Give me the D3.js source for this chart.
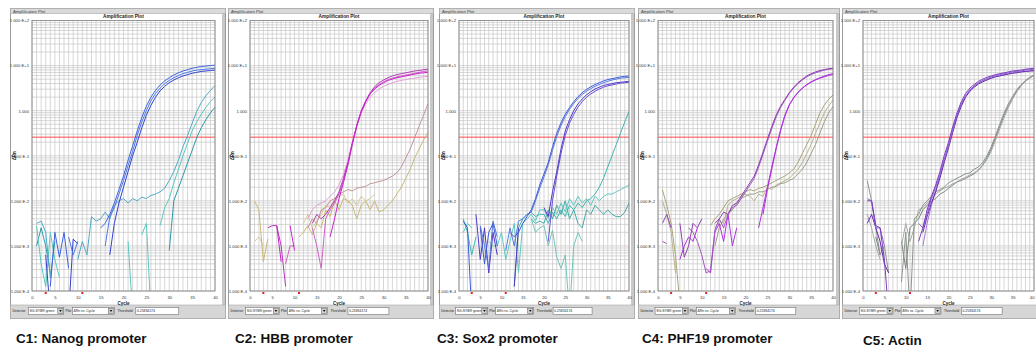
<!DOCTYPE html>
<html>
<head>
<meta charset="utf-8">
<script src="https://cdn.jsdelivr.net/npm/d3@7"></script>
<style>
  body { margin: 0; background: #fff; }
  svg { display: block; font-family: Arial, "Liberation Sans", sans-serif; }
</style>
</head>
<body>
<svg id="fig" width="1036" height="349"></svg>
<script>
const _ = null;
// cycles 1..40, values below are log10(ΔRn); null = no point drawn
const cycles = d3.range(1, 41);
const xTicks = [0, 5, 10, 15, 20, 25, 30, 35, 40];
const decades = [1e-4, 1e-3, 1e-2, 1e-1, 1, 10, 100];
const decadeLabels = ["1.000 E-4", "1.000 E-3", "1.000 E-2", "1.000 E-1", "1.000", "1.000 E+1", "1.000 E+2"];
const threshold = 0.25834174;
const baselineMarks = [3, 11];
const captions = ["C1: Nanog promoter", "C2: HBB promoter", "C3: Sox2 promoter", "C4: PHF19 promoter", "C5: Actin"];

// C1 Nanog
const nanogB1 = [_, _, _, -3.9, -2.7, -3.25, -2.7, -3.5, _, _,
  _, _, _, _, -2.6, -2.5, -2.3, -2.05, -1.75, -1.45,
  -1.1, -0.78, -0.45, -0.15, 0.1, 0.3, 0.45, 0.57, 0.66, 0.73,
  0.79, 0.84, 0.88, 0.91, 0.94, 0.96, 0.98, 0.99, 1.0, 1.01];
const nanogB2 = [_, _, _, _, _, _, _, -2.8, -3.2, -2.9,
  _, _, _, _, _, -3.0, -2.35, -2.15, -1.85, -1.55,
  -1.22, -0.9, -0.55, -0.25, 0.0, 0.22, 0.38, 0.5, 0.6, 0.67,
  0.73, 0.78, 0.82, 0.85, 0.88, 0.9, 0.91, 0.92, 0.93, 0.94];
const nanogB3 = [_, _, -3.2, -4.5, _, _, _, -4.5, -2.85, -2.95,
  _, _, _, _, _, _, -3.2, -2.5, -2.05, -1.7,
  -1.35, -1.0, -0.7, -0.38, -0.1, 0.12, 0.3, 0.44, 0.54, 0.62,
  0.68, 0.73, 0.77, 0.8, 0.83, 0.85, 0.87, 0.88, 0.89, 0.9];
const nanogT1 = [-2.5, -2.45, -2.7, -3.7, -2.9, _, _, _, _, -3.3,
  -2.9, -3.2, -2.35, -2.45, -2.4, -2.25, -2.4, -2.1, -2.0, -1.95,
  -2.05, -1.95, -2.0, -1.92, -1.95, -1.88, -1.85, -1.8, -1.72, -1.55,
  -1.35, -1.1, -0.8, -0.55, -0.28, -0.02, 0.18, 0.33, 0.45, 0.56];
const nanogT2 = [-2.55, -3.4, -3.9, -2.7, -3.3, -3.7, _, _, _, _,
  _, _, _, _, _, _, _, _, _, _,
  -2.9, -4.5, _, -2.75, -2.5, -4.5, _, -2.55, -2.15, -1.95,
  -1.6, -1.3, -1.0, -0.72, -0.45, -0.25, -0.08, 0.07, 0.2, 0.3];
const nanogT3 = [-3.0, -2.6, -3.0, -3.6, _, _, _, _, _, _,
  _, _, _, _, _, _, _, _, _, _,
  _, _, _, _, _, _, _, _, _, -3.1,
  -2.0, -1.72, -1.44, -1.16, -0.88, -0.6, -0.38, -0.2, -0.05, 0.08];
const nanogCurves = [nanogT3, nanogT2, nanogT1, nanogB3, nanogB2, nanogB1];
const nanogColors = ["#2a9aa8", "#5cc6c0", "#4fa8c8", "#3440cc", "#4a78e6", "#3c62dc"];

// C2 HBB
const hbbM1 = [_, _, _, -2.6, -2.55, -2.55, -3.0, -3.9, _, _,
  _, _, _, -2.5, -2.3, -2.4, -2.3, -2.15, -2.0, -1.8,
  -1.5, -1.15, -0.72, -0.32, 0.0, 0.22, 0.4, 0.53, 0.62, 0.68,
  0.73, 0.77, 0.8, 0.82, 0.84, 0.86, 0.88, 0.89, 0.91, 0.92];
const hbbM2 = [_, _, _, _, _, _, _, -3.4, -3.0, -3.0,
  _, _, _, -2.6, -3.0, -3.5, -2.4, -2.2, -2.05, -1.85,
  -1.55, -1.2, -0.75, -0.35, -0.03, 0.2, 0.38, 0.5, 0.58, 0.64,
  0.69, 0.72, 0.75, 0.77, 0.79, 0.81, 0.83, 0.85, 0.87, 0.88];
const hbbM3 = [_, _, _, _, _, -2.55, -3.35, _, -2.55, -3.1,
  _, _, _, _, _, _, _, -2.8, -2.4, -1.95,
  -1.6, -1.2, -0.72, -0.33, -0.02, 0.2, 0.37, 0.48, 0.56, 0.62,
  0.67, 0.7, 0.73, 0.75, 0.77, 0.79, 0.81, 0.83, 0.84, 0.85];
const hbbM4 = [_, _, _, _, _, _, _, _, _, _,
  _, _, -2.4, -2.2, -2.1, -2.05, -2.0, -1.9, -1.8, -1.65,
  -1.42, -1.1, -0.7, -0.33, -0.05, 0.15, 0.3, 0.4, 0.48, 0.54,
  0.58, 0.62, 0.65, 0.67, 0.69, 0.71, 0.72, 0.74, 0.75, 0.76];
const hbbD1 = [_, _, _, _, _, _, _, _, _, _,
  _, _, -2.6, -2.4, -2.5, -2.2, -2.15, -2.0, -1.95, -1.85,
  -1.8, -1.75, -1.78, -1.72, -1.7, -1.68, -1.62, -1.6, -1.57, -1.55,
  -1.5, -1.45, -1.38, -1.25, -1.05, -0.85, -0.6, -0.35, -0.1, 0.15];
const hbbK1 = [-2.0, -2.2, -3.35, -2.85, _, _, _, _, _, _,
  -2.8, -2.7, -2.55, -2.75, -2.5, -2.6, -2.2, -2.35, -2.0, -2.2,
  -1.95, -2.0, -2.1, -2.4, -2.1, -2.0, -2.2, -2.0, -2.25, -2.2,
  -2.1, -2.0, -1.85, -1.7, -1.5, -1.3, -1.05, -0.85, -0.65, -0.48];
const hbbK2 = [-2.9, -2.8, -3.0, _, _, _, _, _, _, _,
  _, -2.5, -2.3, -2.6, -2.45, -2.3, -2.1, -2.15, -1.95, -1.9,
  -1.85, -2.05, -1.95, -2.1, -1.9, -2.0, -1.95, -1.85, _, _,
  _, _, _, _, _, _, _, _, _, _];
const hbbCurves = [hbbK2, hbbK1, hbbD1, hbbM4, hbbM2, hbbM1, hbbM3];
const hbbColors = ["#d6c89c", "#c8b878", "#c49498", "#e2a0d4", "#d060c4", "#b03cb4", "#cc20d0"];

// C3 Sox2
const soxS1 = [-2.45, -2.6, -4.5, _, -2.6, -3.4, -2.7, -2.5, -3.0, _,
  _, -2.7, -2.8, -2.7, -2.5, -2.35, -2.2, -1.95, -1.65, -1.4,
  -1.15, -0.8, -0.5, -0.27, -0.08, 0.07, 0.2, 0.31, 0.4, 0.47,
  0.53, 0.58, 0.62, 0.66, 0.69, 0.71, 0.73, 0.75, 0.76, 0.77];
const soxS1b = [_, _, _, _, -2.55, -3.0, -3.5, -2.45, -2.8, _,
  -3.1, -2.6, -3.0, -2.45, -2.4, -2.3, -2.25, -2.0, -1.72, -1.47,
  -1.2, -0.88, -0.57, -0.33, -0.13, 0.03, 0.16, 0.27, 0.36, 0.43,
  0.49, 0.54, 0.58, 0.62, 0.65, 0.68, 0.7, 0.72, 0.73, 0.74];
const soxS3 = [_, _, _, -2.3, -3.3, -2.6, -3.6, -2.7, -3.2, _,
  _, _, -3.9, -2.6, _, _, _, _, _, -2.15,
  -2.35, -1.8, -1.35, -0.85, -0.45, -0.2, 0.0, 0.15, 0.26, 0.35,
  0.42, 0.48, 0.52, 0.56, 0.58, 0.6, 0.62, 0.63, 0.64, 0.65];
const soxS3b = [_, _, _, _, _, _, _, _, _, _,
  _, _, _, _, _, _, _, _, _, _,
  -2.9, -2.0, -1.45, -0.95, -0.55, -0.28, -0.08, 0.08, 0.2, 0.3,
  0.37, 0.43, 0.48, 0.52, 0.55, 0.57, 0.59, 0.61, 0.62, 0.63];
const soxQ1 = [-2.4, -2.7, -3.2, -2.8, _, _, _, _, _, _,
  _, _, -3.9, -2.6, -2.4, -2.3, -2.25, -2.35, -2.3, -2.3,
  -2.5, -2.25, -2.4, -2.2, -2.35, -2.1, -2.2, -2.05, -2.15, -2.0,
  -1.95, -1.85, -1.7, -1.5, -1.25, -1.0, -0.75, -0.5, -0.25, -0.02];
const soxQ2 = [-2.7, -2.5, -2.6, _, _, _, -2.9, -3.0, -3.0, -2.7,
  -3.3, -2.9, -2.5, -3.6, -2.5, -2.4, -2.3, -2.45, -2.2, -2.2,
  -2.4, -2.15, -2.3, -2.05, -2.25, -1.95, -2.1, -1.9, -2.05, -1.95,
  -2.1, -1.9, -2.0, -1.9, -1.85, -1.85, -1.8, -1.75, -1.7, -1.65];
const soxQ3 = [_, _, _, _, _, _, _, _, _, _,
  _, _, _, _, _, _, -2.4, -2.5, -2.45, -2.5,
  -2.2, -2.4, -2.1, -2.3, -2.0, -2.4, -2.2, -2.5, -2.6, -2.2,
  -2.3, -2.1, -2.2, -2.3, -2.2, -2.3, -2.35, -2.35, -2.25, -2.05];
const soxQ4 = [_, _, _, _, _, _, _, _, _, _,
  _, _, _, _, _, _, -2.4, -2.7, -2.6, -2.55,
  -3.0, -2.65, -3.25, -3.5, -3.2, -4.5, -3.0, -2.7, -2.9, _,
  _, _, _, _, _, _, _, _, _, _];
const soxCurves = [soxQ4, soxQ3, soxQ2, soxQ1, soxS3b, soxS3, soxS1b, soxS1];
const soxColors = ["#72c4bc", "#48a8a8", "#62c8c0", "#40b4b0", "#6a50d8", "#5038c8", "#5878e0", "#3c5cd8"];

// C4 PHF19
const phfP1 = [-2.5, -2.3, -2.6, _, -2.5, -3.25, -3.0, -2.5, -2.6, -2.4,
  _, _, -2.5, -2.4, -2.25, -2.3, -2.1, -2.05, -1.9, -1.75,
  -1.6, -1.45, -1.2, -0.92, -0.63, -0.35, -0.1, 0.1, 0.25, 0.4,
  0.52, 0.62, 0.7, 0.77, 0.82, 0.86, 0.89, 0.91, 0.93, 0.94];
const phfP1b = [-2.9, -2.95, _, _, _, _, -2.6, -2.7, -2.9, -3.2,
  -3.6, -3.55, -2.65, -2.4, -2.6, -2.3, -2.15, -2.1, -1.95, -1.8,
  -1.65, -1.5, -1.25, -0.97, -0.68, -0.4, -0.14, 0.07, 0.23, 0.38,
  0.5, 0.6, 0.68, 0.75, 0.8, 0.84, 0.87, 0.9, 0.92, 0.93];
const phfP2 = [_, _, _, _, -3.3, -3.0, -2.8, -2.9, -2.6, _,
  -3.5, -3.6, -2.7, -2.5, -2.9, -2.3, -3.0, -2.6, _, _,
  _, _, _, -2.3, -1.75, -1.3, -0.85, -0.45, -0.12, 0.12,
  0.28, 0.4, 0.5, 0.58, 0.64, 0.69, 0.73, 0.77, 0.8, 0.82];
const phfP2b = [_, _, _, _, _, _, _, _, _, _,
  _, _, _, _, _, _, _, _, _, _,
  _, _, -2.6, -2.15, -1.7, -1.25, -0.82, -0.43, -0.1, 0.13,
  0.29, 0.41, 0.5, 0.57, 0.63, 0.68, 0.72, 0.75, 0.78, 0.8];
const phfO1 = [-1.75, -2.1, -2.5, -3.2, -4.3, _, _, _, _, _,
  _, -2.55, -2.4, -2.3, -2.15, -2.0, -1.95, -1.9, -1.85, -1.8,
  -1.75, -1.78, -1.72, -1.7, -1.65, -1.6, -1.55, -1.5, -1.45, -1.38,
  -1.3, -1.15, -0.95, -0.75, -0.55, -0.3, -0.05, 0.12, 0.25, 0.35];
const phfO2 = [-2.0, -2.3, -2.7, -3.6, _, _, _, _, _, _,
  _, _, -2.6, -2.45, -2.5, -2.1, -2.0, -1.95, -1.9, -1.85,
  -1.9, -2.0, -1.85, -1.9, -1.7, -1.75, -1.65, -1.6, -1.55, -1.5,
  -1.4, -1.3, -1.15, -0.95, -0.75, -0.5, -0.28, -0.05, 0.1, 0.24];
const phfO3 = [_, _, _, _, _, _, _, _, _, _,
  _, _, -3.0, -2.6, -2.4, -2.3, -2.2, -2.05, -1.95, -1.9,
  -1.85, -1.85, -1.8, -1.8, -1.75, -1.7, -1.68, -1.62, -1.6, -1.55,
  -1.5, -1.4, -1.3, -1.15, -0.95, -0.75, -0.5, -0.25, -0.05, 0.09];
const phfCurves = [phfO3, phfO2, phfO1, phfP2b, phfP2, phfP1b, phfP1];
const phfColors = ["#98a080", "#b8b094", "#a8a478", "#a838d8", "#b030e0", "#a058c0", "#9040b0"];

// C5 Actin
const actA1 = [-2.0, -2.0, -2.55, -2.6, -3.3, -4.5, _, _, _, _,
  _, _, -2.9, -2.6, -2.2, -1.9, -1.65, -1.35, -1.0, -0.7,
  -0.35, -0.05, 0.2, 0.38, 0.5, 0.58, 0.65, 0.7, 0.74, 0.77,
  0.8, 0.82, 0.84, 0.86, 0.88, 0.89, 0.9, 0.92, 0.93, 0.94];
const actA2 = [-1.95, -2.0, -2.6, -2.6, -3.0, _, _, _, _, _,
  _, _, -2.5, -2.6, -2.3, -1.95, -1.7, -1.42, -1.08, -0.77,
  -0.42, -0.1, 0.15, 0.33, 0.46, 0.55, 0.62, 0.67, 0.71, 0.75,
  0.78, 0.8, 0.82, 0.84, 0.86, 0.87, 0.88, 0.9, 0.91, 0.92];
const actA3 = [-2.5, -2.3, -2.6, -2.9, -3.4, -3.6, _, _, _, _,
  _, _, _, -2.7, -2.35, -2.05, -1.8, -1.5, -1.15, -0.83,
  -0.48, -0.15, 0.1, 0.3, 0.43, 0.52, 0.59, 0.64, 0.68, 0.72,
  0.75, 0.77, 0.79, 0.81, 0.83, 0.84, 0.86, 0.87, 0.88, 0.89];
const actA4 = [_, _, _, _, _, _, _, _, _, _,
  _, _, _, -3.0, -2.5, -2.1, -1.78, -1.45, -1.1, -0.78,
  -0.43, -0.12, 0.13, 0.32, 0.45, 0.54, 0.61, 0.66, 0.7, 0.73,
  0.76, 0.78, 0.8, 0.82, 0.84, 0.85, 0.86, 0.87, 0.88, 0.88];
const actG1 = [-1.55, -2.0, -2.6, -3.2, -3.0, -3.6, _, _, -3.8, -2.7,
  -4.5, -2.4, -2.3, -2.1, -2.0, -1.9, -1.8, -1.75, -1.7, -1.6,
  -1.55, -1.5, -1.45, -1.4, -1.38, -1.3, -1.25, -1.15, -1.0, -0.8,
  -0.55, -0.3, -0.05, 0.15, 0.32, 0.47, 0.58, 0.67, 0.74, 0.79];
const actG2 = [-2.3, -2.6, -3.0, -3.3, _, _, _, _, -3.0, -2.5,
  -2.9, -2.6, -2.2, -2.15, -2.05, -1.95, -1.85, -1.78, -1.72, -1.68,
  -1.62, -1.58, -1.52, -1.48, -1.42, -1.38, -1.32, -1.22, -1.08, -0.9,
  -0.66, -0.4, -0.15, 0.07, 0.26, 0.42, 0.55, 0.65, 0.72, 0.78];
const actG3 = [_, _, -2.8, -3.2, _, _, _, _, -2.9, -3.5,
  -2.6, -2.5, -2.4, -2.2, -2.1, -2.0, -1.95, -1.85, -1.8, -1.72,
  -1.65, -1.58, -1.55, -1.5, -1.45, -1.4, -1.32, -1.2, -1.05, -0.85,
  -0.6, -0.35, -0.1, 0.1, 0.28, 0.44, 0.56, 0.66, 0.73, 0.78];
const actCurves = [actG3, actG2, actG1, actA4, actA3, actA2, actA1];
const actColors = ["#7c847c", "#a4aca4", "#8c948c", "#a07ad8", "#6a2ab0", "#9060d0", "#7a3cc0"];

// window layout (pixels)
const panels = [
  { x0: 10,  x1: 225,  pl: 32,  pr: 215,  curves: nanogCurves, colors: nanogColors, cx: 16,  cy: 343 },
  { x0: 228, x1: 433,  pl: 250, pr: 428,  curves: hbbCurves,   colors: hbbColors,   cx: 235, cy: 343 },
  { x0: 439, x1: 634,  pl: 459, pr: 629,  curves: soxCurves,   colors: soxColors,   cx: 437, cy: 343 },
  { x0: 638, x1: 839,  pl: 658, pr: 833,  curves: phfCurves,   colors: phfColors,   cx: 642, cy: 343 },
  { x0: 842, x1: 1046, pl: 863, pr: 1034, curves: actCurves,   colors: actColors,   cx: 863, cy: 345 }
];
const pt = 20.5, pb = 291;

const svg = d3.select("#fig");
const defs = svg.append("defs");

panels.forEach((p, pi) => {
  const g = svg.append("g");
  const w = p.x1 - p.x0;

  // window chrome
  g.append("rect").attr("x", p.x0 + 0.5).attr("y", 8.5).attr("width", w).attr("height", 310)
    .attr("fill", "#fff").attr("stroke", "#9c9c9c");
  g.append("rect").attr("x", p.x1 - 3).attr("y", 8.5).attr("width", 3).attr("height", 310).attr("fill", "#c8c8c8");
  g.append("rect").attr("x", p.x0 + 0.5).attr("y", 8.5).attr("width", w).attr("height", 5)
    .attr("fill", "#dadada").attr("stroke", "#a8a8a8").attr("stroke-width", 0.6);
  g.append("text").attr("x", p.x0 + 3).attr("y", 12.6).attr("font-size", 4.2).attr("fill", "#444")
    .text("Amplification Plot");
  g.append("rect").attr("x", p.x0 + 0.5).attr("y", 305).attr("width", w).attr("height", 13.5)
    .attr("fill", "#d6d6d6").attr("stroke", "#a8a8a8").attr("stroke-width", 0.6);

  const x = d3.scaleLinear().domain([0, 40]).range([p.pl, p.pr]);
  const y = d3.scaleLog().domain([1e-4, 1e2]).range([pb, pt]);

  g.append("text").attr("x", (p.pl + p.pr) / 2).attr("y", 18.4).attr("text-anchor", "middle")
    .attr("font-size", 4.8).attr("font-weight", "bold").attr("fill", "#222").text("Amplification Plot");

  // grid
  const grid = g.append("g").attr("stroke", "#c6c6c6").attr("stroke-width", 0.7);
  grid.selectAll("line.v").data(d3.range(0, 41)).join("line").attr("class", "v")
    .attr("x1", d => x(d)).attr("x2", d => x(d)).attr("y1", pt).attr("y2", pb);
  const minor = [];
  d3.range(-4, 2).forEach(e => d3.range(1, 10).forEach(k => minor.push(k * Math.pow(10, e))));
  grid.selectAll("line.h").data(minor).join("line").attr("class", "h")
    .attr("x1", p.pl).attr("x2", p.pr).attr("y1", d => y(d)).attr("y2", d => y(d));

  // axes
  const yAxis = g.append("g").attr("transform", `translate(${p.pl - 1},0)`)
    .call(d3.axisLeft(y).tickValues(decades).tickFormat((d, i) => decadeLabels[i]).tickSize(0).tickPadding(2));
  yAxis.select(".domain").remove();
  yAxis.selectAll("text").attr("font-size", 4.2).attr("fill", "#333").attr("font-family", "Arial, Liberation Sans, sans-serif");

  const xAxis = g.append("g").attr("transform", `translate(0,${pb + 4})`)
    .call(d3.axisBottom(x).tickValues(xTicks).tickSize(0).tickPadding(1));
  xAxis.select(".domain").remove();
  xAxis.selectAll("text").attr("font-size", 4.2).attr("fill", "#333").attr("font-family", "Arial, Liberation Sans, sans-serif")
    .attr("text-anchor", d => (x(d) + 4 > 1036 ? "end" : "middle"));

  g.append("text").attr("x", (p.pl + p.pr) / 2).attr("y", pb + 13.5).attr("text-anchor", "middle")
    .attr("font-size", 4.5).attr("font-weight", "bold").attr("fill", "#222").text("Cycle");
  g.append("text").attr("transform", `translate(${p.x0 + 5.5},${(pt + pb) / 2}) rotate(-90)`)
    .attr("text-anchor", "middle").attr("font-size", 4.5).attr("font-weight", "bold").attr("fill", "#222").text("ΔRn");

  // curves
  defs.append("clipPath").attr("id", "clip" + pi).append("rect")
    .attr("x", p.pl).attr("y", pt).attr("width", p.pr - p.pl).attr("height", pb - pt);
  const line = d3.line()
    .defined(v => v !== null)
    .x((v, i) => x(cycles[i]))
    .y(v => y(Math.pow(10, v)));
  const plot = g.append("g").attr("clip-path", `url(#clip${pi})`);
  plot.append("line").attr("x1", p.pl).attr("x2", p.pr).attr("y1", y(threshold)).attr("y2", y(threshold))
    .attr("stroke", "#ff4a4a").attr("stroke-width", 1);
  plot.selectAll("path.curve").data(p.curves).join("path").attr("class", "curve")
    .attr("d", line).attr("fill", "none")
    .attr("stroke", (d, i) => p.colors[i]).attr("stroke-width", 1).attr("stroke-linejoin", "round");

  g.append("rect").attr("x", p.pl).attr("y", pt).attr("width", p.pr - p.pl).attr("height", pb - pt)
    .attr("fill", "none").attr("stroke", "#7c7c7c").attr("stroke-width", 0.8);

  g.selectAll("rect.mark").data(baselineMarks).join("rect").attr("class", "mark")
    .attr("x", d => x(d) - 1).attr("y", pb + 1).attr("width", 2).attr("height", 2).attr("fill", "#e82020");

  // control row
  const cy = 307.5, ch = 7;
  const ctl = g.append("g").attr("font-size", 3.4).attr("fill", "#222");
  const box = (a, b, label, btn) => {
    ctl.append("rect").attr("x", p.x0 + w * a).attr("y", cy).attr("width", w * (b - a)).attr("height", ch)
      .attr("fill", "#fff").attr("stroke", "#707070").attr("stroke-width", 0.6);
    ctl.append("text").attr("x", p.x0 + w * a + 1.2).attr("y", cy + 4.8).text(label);
    if (btn) {
      ctl.append("rect").attr("x", p.x0 + w * b - 6).attr("y", cy + 0.8).attr("width", 5.2).attr("height", ch - 1.6)
        .attr("fill", "#d0d0d0").attr("stroke", "#606060").attr("stroke-width", 0.5);
      ctl.append("path").attr("d", `M${p.x0 + w * b - 4.6},${cy + 2.6}h2.6l-1.3,2z`).attr("fill", "#111");
    }
  };
  ctl.append("text").attr("x", p.x0 + w * 0.012).attr("y", cy + 4.8).text("Detector");
  box(0.085, 0.25, "SG-SYBR green", true);
  ctl.append("text").attr("x", p.x0 + w * 0.258).attr("y", cy + 4.8).text("Plot");
  box(0.29, 0.485, "ΔRn vs. Cycle", true);
  ctl.append("text").attr("x", p.x0 + w * 0.5).attr("y", cy + 4.8).text("Threshold");
  box(0.585, 0.785, "0.25834174", false);

  // caption
  svg.append("text").attr("x", p.cx).attr("y", p.cy).attr("font-size", 13.5).attr("font-weight", "bold")
    .attr("fill", "#111").text(captions[pi]);
});
</script>
</body>
</html>
